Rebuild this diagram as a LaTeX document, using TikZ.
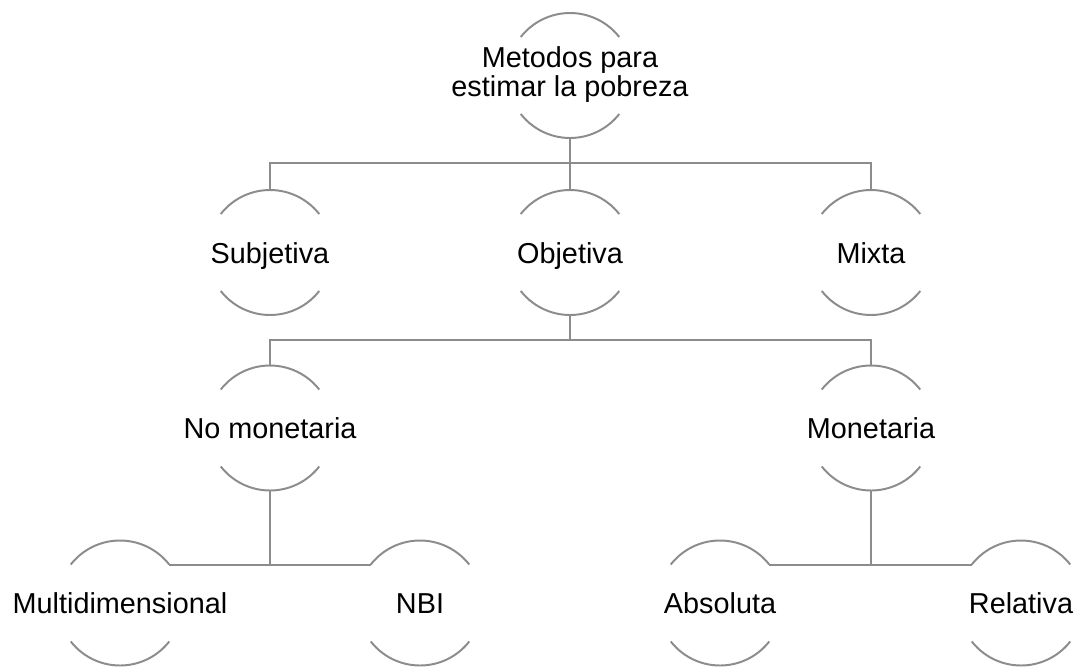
\documentclass[tikz,border=0pt]{standalone}
\usepackage{fontspec}
\setmainfont{Liberation Sans}
\definecolor{linea}{RGB}{140,140,140}
\tikzset{
    metodo/.style={circle, minimum size=3.125cm, inner sep=0pt, outer sep=0pt,
        font=\fontsize{20.5}{19.6}\selectfont,
        execute at begin node={\hbox to 0pt\bgroup\hss\vrule height 19.5pt depth 4.5pt width 0pt},
        execute at end node={\hss\egroup}},
    arco/.style={draw=linea, line width=1.4pt},
    rama/.style={draw=linea, line width=1.4pt},
}

\begin{document}
\begin{tikzpicture}
                 \useasboundingbox (0,0) rectangle (26.9,-16.65);

                 \node[metodo] (raiz) at (14.25,-1.8875) {\begin{tabular}{@{}c@{}}Metodos para\\ estimar la pobreza\end{tabular}};

                 \node[metodo] (subj) at (6.75,-6.3125) {Subjetiva};
                 \node[metodo] (obj) at (14.25,-6.3125) {Objetiva};
                 \node[metodo] (mixta) at (21.775,-6.3125) {Mixta};

                 \node[metodo] (nomon) at (6.75,-10.7) {No monetaria};
                 \node[metodo] (mon) at (21.775,-10.7) {Monetaria};

                 \node[metodo] (multi) at (3,-15.075) {Multidimensional};
                 \node[metodo] (nbi) at (10.5,-15.075) {NBI};
                 \node[metodo] (abs) at (18,-15.075) {Absoluta};
                 \node[metodo] (rel) at (25.525,-15.075) {Relativa};

                 % arcos de cada metodo
                 \foreach \n in {raiz,subj,obj,mixta,nomon,mon,multi,nbi,abs,rel}{
                   \draw[arco] (\n.38) arc[start angle=38, end angle=142, radius=1.5625cm];
                   \draw[arco] (\n.218) arc[start angle=218, end angle=322, radius=1.5625cm];
                 }

                 \draw[rama] (raiz.south) -- ++(0,-0.63) coordinate (bus1);
                 \draw[rama] (bus1) -| (subj.north);
                 \draw[rama] (bus1) -| (mixta.north);
                 \draw[rama] (bus1) -- (obj.north);

                 \draw[rama] (obj.south) -- ++(0,-0.625) coordinate (bus2);
                 \draw[rama] (bus2) -| (nomon.north);
                 \draw[rama] (bus2) -| (mon.north);

                 \draw[rama] (multi.38) -- (nbi.142);
                 \draw[rama] (nomon.south) -- (nomon.south |- multi.38);
                 \draw[rama] (abs.38) -- (rel.142);
                 \draw[rama] (mon.south) -- (mon.south |- abs.38);

\end{tikzpicture}
\end{document}
